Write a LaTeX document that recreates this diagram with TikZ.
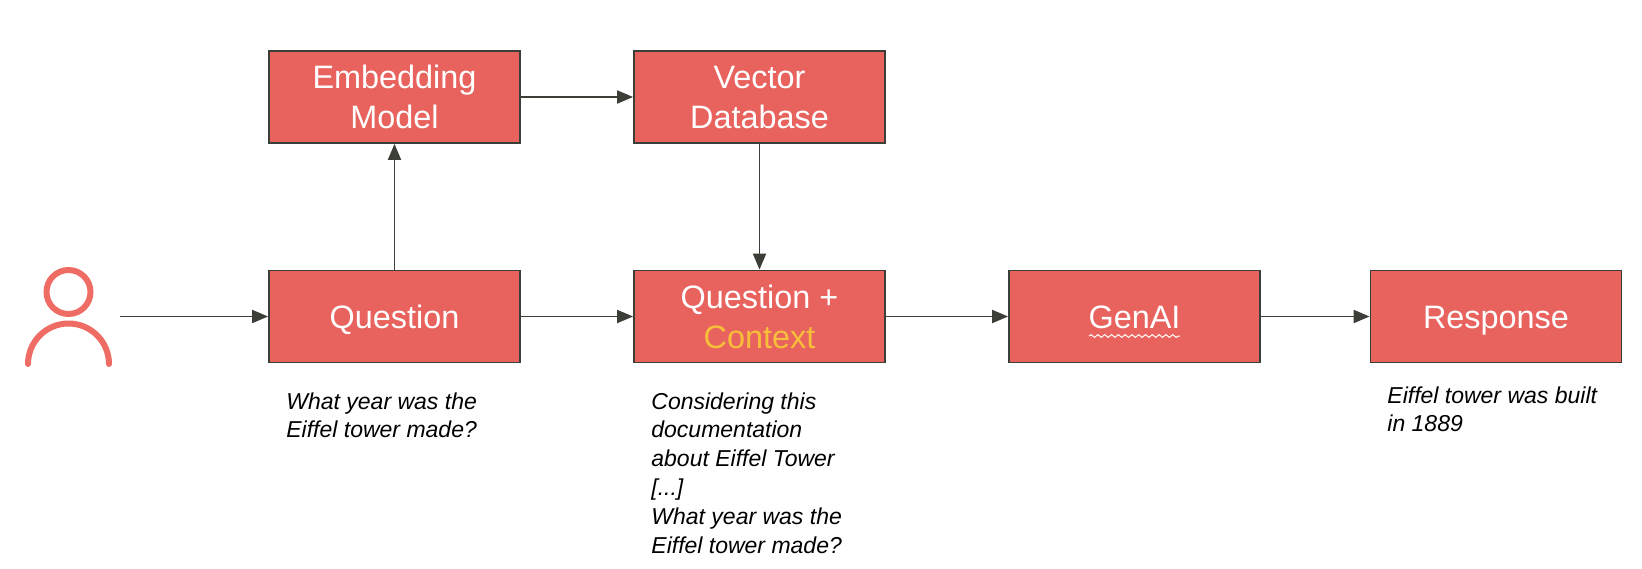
\documentclass[tikz,border=0pt]{standalone}
\usepackage{fontspec}
\setmainfont{Liberation Sans}
\usetikzlibrary{arrows.meta}
\usetikzlibrary{decorations.pathmorphing}
\definecolor{boxred}{RGB}{233,99,94}
\definecolor{personred}{RGB}{238,108,100}
\definecolor{edgegray}{RGB}{60,62,56}
\definecolor{contextyellow}{RGB}{247,190,58}
\tikzset{
  stagebox/.style={draw=edgegray,line width=0.9pt,fill=boxred,text=white,minimum width=125.5pt,
    minimum height=46pt,align=center,font=\fontsize{16.2}{19.8}\selectfont,inner sep=0pt},
  oneline/.style={text height=15pt,text depth=3.5pt},
  twolines/.style={text height=31.5pt,text depth=0pt},
  note/.style={anchor=north west,align=left,inner sep=0pt,font=\fontsize{11.5}{14.4}\selectfont\itshape},
  flow/.style={->,draw=edgegray,line width=0.95pt},
}
\begin{document}
\begin{tikzpicture}[x=0.5pt,y=-0.5pt,>={Triangle[length=8pt,width=6.5pt]}]
  \useasboundingbox (0,0) rectangle (1642,568);
%Boxes
    \node[stagebox,twolines] (embedding) at (394.5,97) {Embedding\\Model};
    \node[stagebox,twolines] (vectordb) at (759.5,97) {Vector\\Database};
    \node[stagebox,oneline] (question) at (394.5,316.5) {Question};
    \node[stagebox,twolines] (augmented) at (759.5,316.5) {Question +\\\textcolor{contextyellow}{Context}};
    \node[stagebox,oneline] (genai) at (1134.5,316.5) {GenAI};
    \node[stagebox,oneline] (response) at (1496,316.5) {Response};
%Notes
    \node[note] (questionnote) at (286,392) {What year was the\\Eiffel tower made?};
    \node[note] (augmentednote) at (651,392) {Considering this\\documentation\\about Eiffel Tower\\{[...]}\\What year was the\\Eiffel tower made?};
    \node[note] (responsenote) at (1387,386) {Eiffel tower was built\\in 1889};
%Person
    \node[draw=personred,line width=3pt,circle,minimum size=22pt,inner sep=0pt] (head) at (68.5,292) {};
    \draw[personred,line width=3pt,line cap=round] (28,364) arc[start angle=180,end angle=0,radius=20.25pt];
    \coordinate (person) at (120,316.5);
%Arrows
    \draw [flow](person) -- (question);
    \draw [flow](question) -- (embedding);
    \draw [flow](embedding) -- (vectordb);
    \draw [flow](vectordb) -- (augmented);
    \draw [flow](question) -- (augmented);
    \draw [flow](augmented) -- (genai);
    \draw [flow](genai) -- (response);
%Squiggle under GenAI
    \coordinate (squiggleleft) at (1089,336);
    \coordinate (squiggleright) at (1180,336);
    \draw[white,line width=0.5pt,decorate,decoration={snake,amplitude=0.7pt,segment length=3.4pt}] (squiggleleft) -- (squiggleright);
\end{tikzpicture}
\end{document}
